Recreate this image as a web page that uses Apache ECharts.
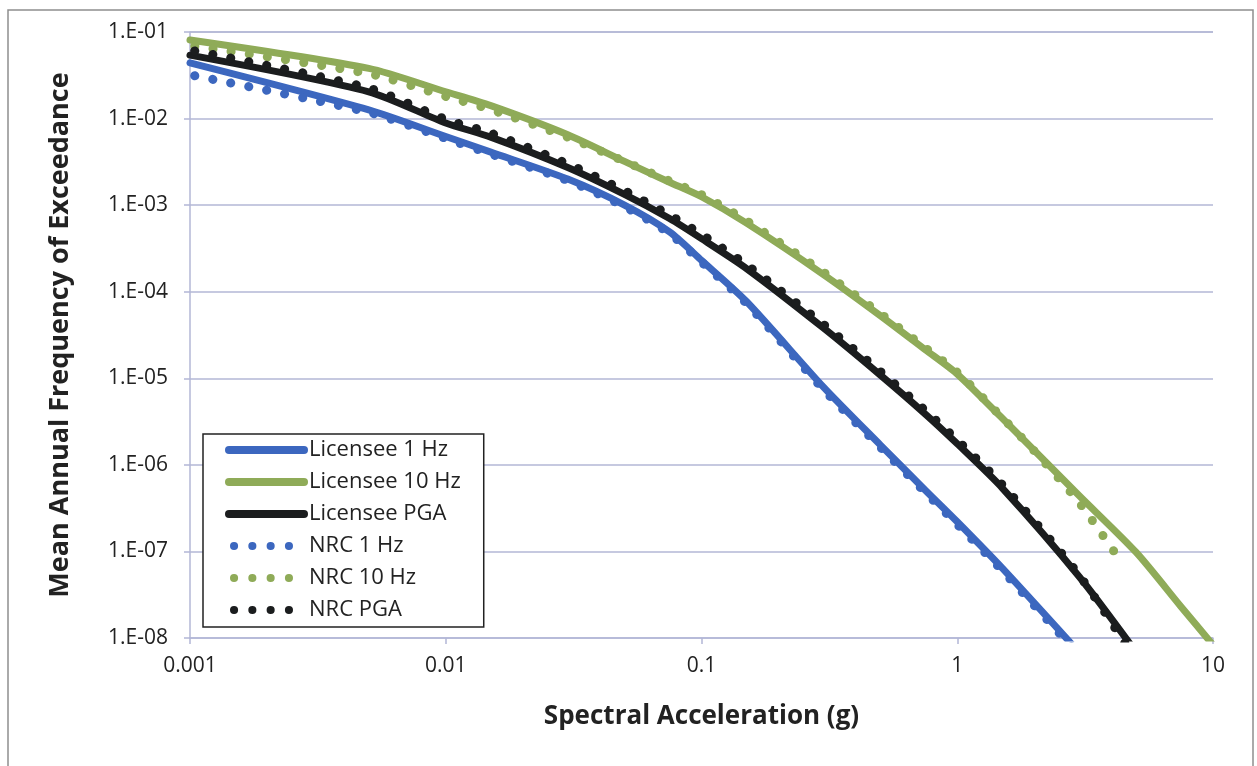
<!DOCTYPE html>
<html>
<head>
<meta charset="utf-8">
<title>Mean Annual Frequency of Exceedance</title>
<script src="https://cdn.jsdelivr.net/npm/echarts@6/dist/echarts.min.js"></script>
<style>
  html, body { margin: 0; padding: 0; background: #fff; }
  #hazardChart { width: 1257px; height: 766px; }
</style>
</head>
<body>
<div id="hazardChart"></div>
<script>
// spectral acceleration (g) where the curves were read
const saGrid = [0.001, 0.005, 0.01, 0.015, 0.03, 0.05, 0.075, 0.1, 0.15, 0.3, 0.5, 0.75, 1, 1.5, 3, 5, 7.5, 10];
// NRC 10 Hz curve stops early
const saNrc10 = [0.001, 0.005, 0.01, 0.015, 0.03, 0.05, 0.075, 0.1, 0.15, 0.3, 0.5, 0.75, 1, 1.5, 2, 3, 4.4];

// mean annual frequency of exceedance
const licensee1Hz = [4.4e-2, 1.26e-2, 6.2e-3, 4.1e-3, 2.0e-3, 1.0e-3, 4.9e-4, 2.3e-4, 7.7e-5, 7.9e-6, 1.7e-6, 5.1e-7, 2.2e-7, 6.4e-8, 6.8e-9, null, null, null];
const licensee10Hz = [8.1e-2, 3.8e-2, 2.04e-2, 1.41e-2, 6.5e-3, 3.2e-3, 1.84e-3, 1.25e-3, 6.2e-4, 1.58e-4, 5.3e-5, 2.14e-5, 1.12e-5, 3.45e-6, 4.4e-7, 9.8e-8, 2.3e-8, 8.3e-9];
const licenseePga = [5.4e-2, 2.04e-2, 8.9e-3, 6.1e-3, 2.72e-3, 1.33e-3, 7.0e-4, 4.1e-4, 1.85e-4, 3.8e-5, 1.09e-5, 3.86e-6, 1.75e-6, 5.4e-7, 5.1e-8, 6.9e-9, null, null];
const nrc1Hz = [3.2e-2, 1.18e-2, 5.9e-3, 3.9e-3, 1.92e-3, 9.6e-4, 4.7e-4, 2.2e-4, 7.3e-5, 7.4e-6, 1.6e-6, 4.8e-7, 2.05e-7, 6.0e-8, 6.3e-9, null, null, null];
const nrc10Hz = [7.0e-2, 3.3e-2, 1.8e-2, 1.27e-2, 6.1e-3, 3.2e-3, 1.9e-3, 1.32e-3, 6.6e-4, 1.68e-4, 5.6e-5, 2.25e-5, 1.17e-5, 3.5e-6, 1.45e-6, 3.65e-7, 7.4e-8];
const nrcPga = [6.2e-2, 2.25e-2, 9.8e-3, 6.8e-3, 3.0e-3, 1.47e-3, 7.7e-4, 4.6e-4, 2.05e-4, 4.2e-5, 1.2e-5, 4.25e-6, 1.93e-6, 5.9e-7, 5.3e-8, 5.5e-9, null, null];

// tick labels
const xTickLabels = ['0.001', '0.01', '0.1', '1', '10'];
const yTickLabels = ['1.E-08', '1.E-07', '1.E-06', '1.E-05', '1.E-04', '1.E-03', '1.E-02', '1.E-01'];

const FONT = '"Open Sans", sans-serif';
const BLUE = '#3c67bf';
const GREEN = '#8fab58';
const BLACK = '#1b1d1e';
const GRID_COLOR = '#b3b7d6';

function toPairs(xs, ys) {
  return xs.map((x, i) => [x, ys[i]]).filter(p => p[1] != null);
}

function solidSeries(name, color, ys) {
  return {
    name: name,
    type: 'line',
    data: toPairs(saGrid, ys),
    symbol: 'none',
    showSymbol: false,
    smooth: 0.25,
    clip: true,
    itemStyle: { color: color },
    lineStyle: { color: color, width: 7, cap: 'round', join: 'round' }
  };
}

function dottedSeries(name, color, xs, ys) {
  return {
    name: name,
    type: 'line',
    data: toPairs(xs, ys),
    symbol: 'none',
    showSymbol: false,
    smooth: 0.25,
    clip: true,
    itemStyle: { color: color },
    lineStyle: { color: color, width: 9, type: [0.1, 18.2], dashOffset: -5, cap: 'round', join: 'round' }
  };
}

function initChart() {
  const chart = echarts.init(document.getElementById('hazardChart'));

  const option = {
    animation: false,
    backgroundColor: '#fff',
    textStyle: { fontFamily: FONT },
    graphic: [
      {
        // outer frame of the scanned figure
        type: 'rect',
        shape: { x: 8, y: 10, width: 1245, height: 780 },
        style: { fill: 'none', stroke: '#8e8e8e', lineWidth: 1.5 },
        silent: true
      }
    ],
    grid: { left: 190, right: 44, top: 32, bottom: 128 },
    xAxis: {
      type: 'log',
      logBase: 10,
      min: 0.001,
      max: 10,
      name: 'Spectral Acceleration (g)',
      nameLocation: 'middle',
      nameGap: 66,
      nameTextStyle: { fontFamily: FONT, fontSize: 26, fontWeight: 'bold', color: '#222' },
      axisLine: { show: true, lineStyle: { color: GRID_COLOR, width: 1.5 } },
      axisTick: { show: true, length: 6, lineStyle: { color: GRID_COLOR, width: 1.5 } },
      splitLine: { show: false },
      minorTick: { show: false },
      axisLabel: {
        margin: 18,
        fontFamily: FONT,
        fontSize: 21,
        color: '#222',
        formatter: v => xTickLabels[Math.round(Math.log10(v)) + 3]
      }
    },
    yAxis: {
      type: 'log',
      logBase: 10,
      min: 1e-8,
      max: 0.1,
      name: 'Mean Annual Frequency of Exceedance',
      nameLocation: 'middle',
      nameGap: 116,
      nameTextStyle: { fontFamily: FONT, fontSize: 27, fontWeight: 'bold', color: '#222' },
      axisLine: { show: true, lineStyle: { color: GRID_COLOR, width: 1.5 } },
      axisTick: { show: true, length: 6, lineStyle: { color: GRID_COLOR, width: 1.5 } },
      splitLine: { show: true, lineStyle: { color: GRID_COLOR, width: 1.5 } },
      axisLabel: {
        margin: 22,
        fontFamily: FONT,
        fontSize: 21,
        color: '#222',
        formatter: v => yTickLabels[Math.round(Math.log10(v)) + 8]
      }
    },
    legend: {
      orient: 'vertical',
      left: 203,
      top: 434,
      padding: [5, 23, 6, 22],
      itemWidth: 75,
      itemHeight: 22,
      itemGap: 10,
      backgroundColor: '#fff',
      borderColor: '#222',
      borderWidth: 1.5,
      // hide the marker circle, keep only the line sample
      itemStyle: { opacity: 0 },
      lineStyle: { width: 8, cap: 'round' },
      textStyle: { fontFamily: FONT, fontSize: 22, lineHeight: 22, color: '#222' },
      data: ['Licensee 1 Hz', 'Licensee 10 Hz', 'Licensee PGA', 'NRC 1 Hz', 'NRC 10 Hz', 'NRC PGA']
    },
    series: [
      solidSeries('Licensee 1 Hz', BLUE, licensee1Hz),
      solidSeries('Licensee 10 Hz', GREEN, licensee10Hz),
      solidSeries('Licensee PGA', BLACK, licenseePga),
      dottedSeries('NRC 1 Hz', BLUE, saGrid, nrc1Hz),
      dottedSeries('NRC 10 Hz', GREEN, saNrc10, nrc10Hz),
      dottedSeries('NRC PGA', BLACK, saGrid, nrcPga)
    ]
  };

  chart.setOption(option);
}

document.addEventListener('DOMContentLoaded', initChart);
</script>
</body>
</html>
